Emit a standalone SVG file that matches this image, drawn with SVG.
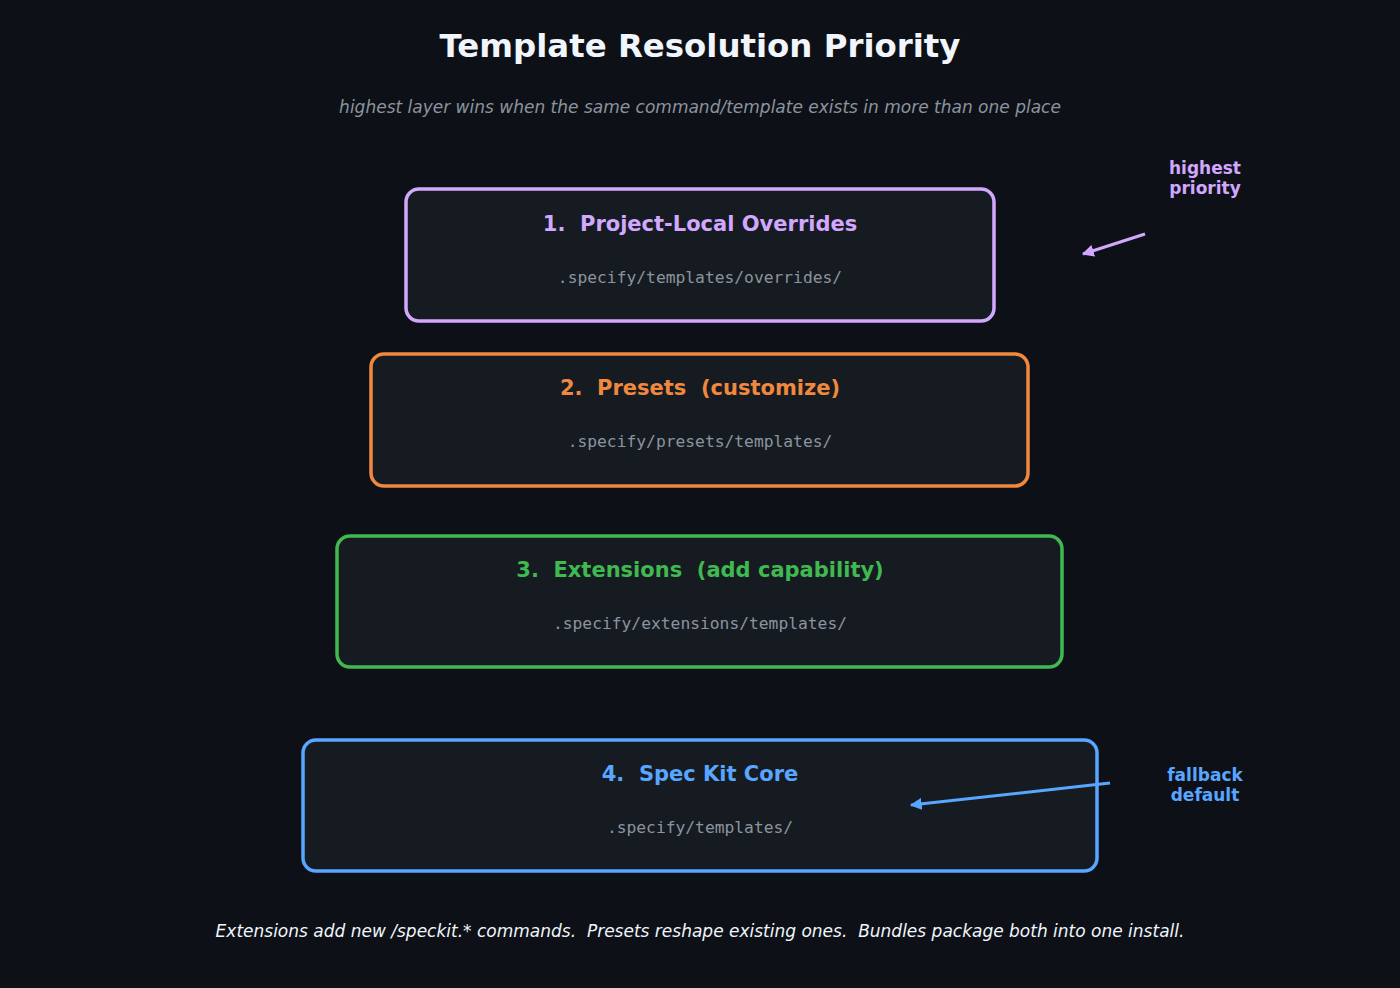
<svg xmlns="http://www.w3.org/2000/svg" width="1400" height="988" viewBox="0 0 1400 988">
<defs>
<style>
text{white-space:pre}
.box{fill:#161b22;stroke-width:3.5}
.t{font-family:"DejaVu Sans",sans-serif;font-weight:bold;font-size:21px;text-anchor:middle}
.m{font-family:"DejaVu Sans Mono",monospace;font-size:16.3px;fill:#8b949e;text-anchor:middle}
.n{font-family:"DejaVu Sans",sans-serif;font-weight:bold;font-size:17px;text-anchor:middle}
.i{font-family:"DejaVu Sans",sans-serif;font-style:italic;font-size:17px;text-anchor:middle}
</style>
<marker id="ap" viewBox="0 0 10 10" refX="9" refY="5" markerWidth="4" markerHeight="4" orient="auto"><path d="M0,0L10,5L0,10z" fill="#d2a8ff"/></marker>
<marker id="ab" viewBox="0 0 10 10" refX="9" refY="5" markerWidth="4" markerHeight="4" orient="auto"><path d="M0,0L10,5L0,10z" fill="#58a6ff"/></marker>
</defs>
<rect width="1400" height="988" fill="#0d1117"/>
<text x="700" y="57" font-family="DejaVu Sans,sans-serif" font-weight="bold" font-size="32.4" fill="#f0f6fc" text-anchor="middle">Template Resolution Priority</text>
<text class="i" x="700" y="113" fill="#8b949e">highest layer wins when the same command/template exists in more than one place</text>
<g id="n1"><rect class="box" x="406" y="189" width="588" height="132" rx="13" stroke="#d2a8ff"/><text class="t" x="700" y="231" fill="#d2a8ff" xml:space="preserve">1.  Project-Local Overrides</text><text class="m" x="700" y="283">.specify/templates/overrides/</text></g>
<g id="n2"><rect class="box" x="371" y="354" width="657" height="132" rx="13" stroke="#f0883e"/><text class="t" x="700" y="395" fill="#f0883e" xml:space="preserve">2.  Presets  (customize)</text><text class="m" x="700" y="447">.specify/presets/templates/</text></g>
<g id="n3"><rect class="box" x="337" y="536" width="725" height="131" rx="13" stroke="#3fb950"/><text class="t" x="700" y="577" fill="#3fb950" xml:space="preserve">3.  Extensions  (add capability)</text><text class="m" x="700" y="629">.specify/extensions/templates/</text></g>
<g id="n4"><rect class="box" x="303" y="740" width="794" height="131" rx="13" stroke="#58a6ff"/><text class="t" x="700" y="781" fill="#58a6ff" xml:space="preserve">4.  Spec Kit Core</text><text class="m" x="700" y="833">.specify/templates/</text></g>
<g id="l1"><text class="n" x="1205" y="174" fill="#d2a8ff">highest</text><text class="n" x="1205" y="194" fill="#d2a8ff">priority</text></g>
<g id="l2"><text class="n" x="1205" y="781" fill="#58a6ff">fallback</text><text class="n" x="1205" y="801" fill="#58a6ff">default</text></g>
<g id="connectors" stroke-width="3" fill="none">
<line x1="1145" y1="234" x2="1083" y2="254" stroke="#d2a8ff" marker-end="url(#ap)"/>
<line x1="1110" y1="783" x2="911" y2="805" stroke="#58a6ff" marker-end="url(#ab)"/>
</g>
<text class="i" x="700" y="937" fill="#f0f6fc" xml:space="preserve">Extensions add new /speckit.* commands.  Presets reshape existing ones.  Bundles package both into one install.</text>
</svg>
